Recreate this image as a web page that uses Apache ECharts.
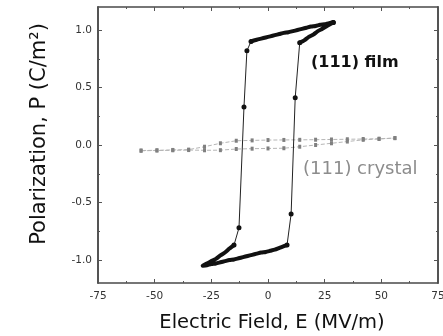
<!DOCTYPE html>
<html>
<head>
<meta charset="utf-8">
<script src="https://cdn.jsdelivr.net/npm/echarts@6/dist/echarts.min.js"></script>
<style>
    html, body { margin: 0; padding: 0; background: #fff; }
    #chart { width: 443px; height: 336px; }
</style>
</head>
<body>
<div id="chart"></div>
<script>
    // (111) film loop, traced from the +E tip around the loop and back
    const filmE = [28.8, 27, 25, 23, 21, 19, 17, 15, 13, 11, 9, 7, 5, 3, 1, -1, -3, -5, -7.5,
        -9.3, -10.6, -12.8, -15,
        -17, -19, -21, -23, -25, -27, -28.8,
        -27, -25, -23, -21, -19, -17, -15, -13, -11, -9, -7, -5, -3, -1, 1, 3, 5, 7, 8.4,
        10.2, 12, 14,
        16, 18, 20, 22, 24, 26, 28.8]
    const filmP = [1.065, 1.06, 1.05, 1.045, 1.035, 1.03, 1.02, 1.01, 1.0, 0.99, 0.98, 0.975, 0.965, 0.955, 0.945, 0.935, 0.925, 0.915, 0.90,
        0.82, 0.33, -0.72, -0.87,
        -0.9, -0.935, -0.96, -0.99, -1.01, -1.03, -1.05,
        -1.045, -1.035, -1.03, -1.02, -1.01, -1.0, -0.995, -0.985, -0.975, -0.965, -0.955, -0.945, -0.935, -0.93, -0.92, -0.91, -0.895, -0.88, -0.87,
        -0.6, 0.41, 0.89,
        0.91, 0.94, 0.96, 0.99, 1.01, 1.035, 1.065]
    // index ranges of the loop that were measured so densely they print as a thick stroke
    const filmThick = [[0, 18], [22, 48], [51, 58]]

    // (111) crystal, two nearly closed branches
    const crystalE = [-56, -49, -42, -35, -28, -21, -14, -7, 0, 7, 14, 21, 28, 35, 42, 49, 56]
    const crystalDown = [-0.048, -0.046, -0.043, -0.04, -0.015, 0.015, 0.037, 0.04, 0.043, 0.044, 0.045, 0.046, 0.048, 0.05, 0.052, 0.055, 0.06]
    const crystalUp = [-0.05, -0.048, -0.046, -0.044, -0.046, -0.045, -0.035, -0.032, -0.03, -0.028, -0.015, 0.0, 0.015, 0.03, 0.045, 0.052, 0.06]

    const yTicks = [-1, -0.5, 0, 0.5, 1]
    const yMinorTicks = [-0.75, -0.25, 0.25, 0.75]

    const filmData = filmE.map((e, i) => [e, filmP[i]])
    let thickData = []
    filmThick.forEach(([a, b], k) => {
        if (k > 0) thickData.push([null, null])
        thickData = thickData.concat(filmData.slice(a, b + 1))
    })
    const isThick = i => filmThick.some(([a, b]) => i > a && i < b)

    const crystalData = crystalE.map((e, i) => [e, crystalUp[i]])
        .concat(crystalE.slice().reverse().map((e, i) => [e, crystalDown[crystalDown.length - 1 - i]]))

    const frame = { show: true, onZero: false, lineStyle: { color: '#4a4a4a', width: 1.5 } }
    const font = 'DejaVu Sans'

    function yAxis(pos, ticks, len, labels, extra) {
        return Object.assign({
            type: 'value', position: pos, min: -1.2, max: 1.2,
            axisLine: frame,
            splitLine: { show: false },
            axisTick: { show: true, inside: true, length: len, customValues: ticks, lineStyle: { color: '#555' } },
            axisLabel: labels ? {
                show: true, customValues: ticks, color: '#333', fontSize: 10.5, fontFamily: font, margin: 6,
                formatter: v => v.toFixed(1)
            } : { show: false }
        }, extra || {})
    }

    const chartInstance = echarts.init(document.getElementById('chart'))
    chartInstance.setOption({
        animation: false,
        grid: { left: 98, right: 5, top: 7, bottom: 53, outerBoundsMode: 'none' },
        xAxis: [
            {
                type: 'value', position: 'bottom', min: -75, max: 75, interval: 25,
                axisLine: frame,
                splitLine: { show: false },
                axisTick: { inside: true, length: 4, lineStyle: { color: '#555' } },
                minorTick: { show: true, splitNumber: 2, length: 2, lineStyle: { color: '#555' } },
                axisLabel: { color: '#333', fontSize: 10.5, fontFamily: font, margin: 8 },
                name: 'Electric Field, E (MV/m)', nameLocation: 'middle', nameGap: 30,
                nameTextStyle: { color: '#111', fontSize: 19.5, fontFamily: font, padding: [0, 0, 0, 8] }
            },
            {
                type: 'value', position: 'top', min: -75, max: 75, interval: 25,
                axisLine: frame,
                splitLine: { show: false },
                axisTick: { inside: true, length: 4, lineStyle: { color: '#555' } },
                minorTick: { show: true, splitNumber: 2, length: 2, lineStyle: { color: '#555' } },
                axisLabel: { show: false }
            }
        ],
        yAxis: [
            yAxis('left', yTicks, 4, true, {
                name: 'Polarization, P (C/m²)', nameLocation: 'middle', nameGap: 48,
                nameTextStyle: { color: '#111', fontSize: 21, fontFamily: font, padding: [0, 0, 0, 22] }
            }),
            yAxis('left', yMinorTicks, 2, false),
            yAxis('right', yTicks, 4, false),
            yAxis('right', yMinorTicks, 2, false)
        ],
        series: [
            {
                type: 'line', data: crystalData,
                symbol: 'rect', symbolSize: [3, 4],
                itemStyle: { color: '#808080' },
                lineStyle: { color: '#b5b5b5', width: 1, type: 'dashed' },
                z: 2
            },
            {
                type: 'line', data: filmData,
                symbol: 'circle',
                symbolSize: (v, p) => isThick(p.dataIndex) ? 0 : 5,
                itemStyle: { color: '#111' },
                lineStyle: { color: '#222', width: 1 },
                z: 3
            },
            {
                type: 'line', data: thickData, connectNulls: false,
                showSymbol: false, smooth: 0.2,
                lineStyle: { color: '#111', width: 4, cap: 'round', join: 'round' },
                z: 4
            }
        ],
        graphic: [
            {
                type: 'text', left: 311, top: 55,
                style: { text: '(111) film', fill: '#111', font: 'bold 16px "DejaVu Sans"' }
            },
            {
                type: 'text', left: 303, top: 160,
                style: { text: '(111) crystal', fill: '#8c8c8c', font: '18px "DejaVu Sans"' }
            }
        ]
    })
</script>
</body>
</html>
